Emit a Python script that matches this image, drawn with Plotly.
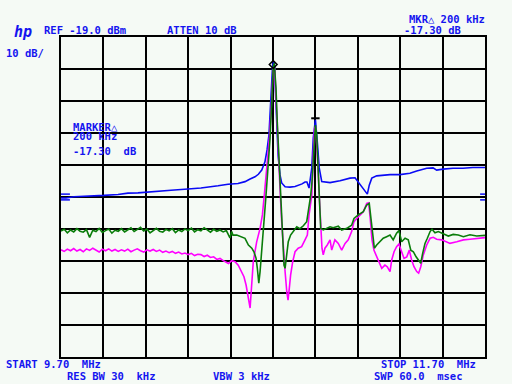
import plotly.graph_objects as go

# ---- data (frequency in MHz, level in dBm) ----
blue_f = [9.700, 9.724, 9.761, 9.827, 9.903, 9.969, 10.016, 10.063, 10.110, 10.172, 10.219,
          10.299, 10.360, 10.441, 10.488, 10.535, 10.568, 10.592, 10.615, 10.631, 10.647,
          10.662, 10.672, 10.681, 10.688, 10.693, 10.698, 10.702, 10.708, 10.710, 10.718,
          10.724, 10.733, 10.741, 10.757, 10.780, 10.804, 10.837, 10.851, 10.860, 10.870,
          10.883, 10.890, 10.900, 10.909, 10.918, 10.930, 10.969, 11.016, 11.063, 11.087,
          11.101, 11.118, 11.134, 11.145, 11.154, 11.166, 11.189, 11.219, 11.252, 11.299,
          11.346, 11.378, 11.425, 11.455, 11.472, 11.502, 11.549, 11.596, 11.643, 11.700]
blue_db = [-69.3, -69.3, -68.9, -68.8, -68.5, -68.2, -67.8, -67.7, -67.4, -67.1, -66.9,
           -66.5, -66.2, -65.5, -65.0, -64.8, -64.2, -63.4, -62.7, -61.9, -60.6,
           -58.0, -54.3, -49.6, -40.3, -32.4, -28.1, -26.8, -28.1, -33.1, -45.6,
           -55.9, -62.1, -64.6, -65.8, -65.9, -65.7, -64.9, -64.3, -64.3, -66.2,
           -59.9, -50.6, -44.9, -51.8, -59.9, -64.2, -64.5, -63.9, -63.1, -63.0,
           -64.2, -65.6, -66.8, -68.1, -65.3, -63.1, -62.4, -62.2, -62.0, -62.0,
           -61.6, -60.9, -60.0, -59.9, -60.6, -60.3, -60.0, -60.0, -59.8, -59.8]

green_f = [9.700, 9.715, 9.730, 9.745, 9.760, 9.775, 9.790, 9.805, 9.820, 9.835, 9.850,
           9.865, 9.880, 9.895, 9.910, 9.925, 9.940, 9.955, 9.970, 9.985, 10.000,
           10.015, 10.030, 10.045, 10.060, 10.075, 10.090, 10.105, 10.120, 10.135, 10.150,
           10.165, 10.180, 10.195, 10.210, 10.225, 10.240, 10.255, 10.270, 10.285, 10.300,
           10.315, 10.330, 10.345, 10.360, 10.375, 10.390, 10.405, 10.420, 10.435, 10.450,
           10.465, 10.480, 10.497, 10.505, 10.511, 10.529, 10.552, 10.568, 10.584, 10.600,
           10.610, 10.620, 10.626, 10.633, 10.639, 10.647, 10.654, 10.666, 10.675, 10.686,
           10.694, 10.701, 10.706, 10.714, 10.720, 10.728, 10.736, 10.744, 10.752, 10.757,
           10.765, 10.772, 10.783, 10.796, 10.812, 10.827, 10.843, 10.859, 10.870, 10.878,
           10.884, 10.890, 10.895, 10.900, 10.906, 10.912, 10.918, 10.925, 10.937, 10.953,
           10.969, 10.984, 11.008, 11.024, 11.048, 11.071, 11.082, 11.102, 11.126, 11.142,
           11.154, 11.162, 11.170, 11.178, 11.189, 11.205, 11.220, 11.236, 11.252, 11.267,
           11.283, 11.294, 11.307, 11.323, 11.338, 11.350, 11.362, 11.375, 11.385, 11.397,
           11.406, 11.417, 11.428, 11.441, 11.450, 11.464, 11.480, 11.503, 11.527, 11.550,
           11.574, 11.598, 11.629, 11.661, 11.692, 11.700]
green_db = [-79.6, -79.1, -80.2, -79.3, -79.9, -78.9, -79.7, -80.0, -79.2, -81.6, -79.4,
            -79.8, -78.8, -80.1, -79.5, -79.0, -80.3, -79.4, -79.7, -78.9, -79.9,
            -79.3, -78.6, -79.8, -79.2, -78.5, -79.6, -79.0, -80.2, -79.4, -78.8,
            -79.7, -80.0, -79.1, -79.6, -78.9, -80.1, -79.3, -79.8, -79.0, -79.5,
            -78.7, -79.9, -79.2, -79.6, -78.6, -79.4, -80.0, -79.1, -79.7, -79.3,
            -79.9, -79.5, -81.8, -79.8, -80.9, -80.9, -81.4, -81.9, -84.0, -85.0,
            -86.1, -88.1, -91.2, -95.9, -92.3, -86.1, -78.8, -69.4, -61.1, -50.7,
            -39.2, -28.3, -27.2, -34.9, -45.5, -55.9, -66.3, -78.8, -90.3, -91.3,
            -87.1, -83.0, -80.9, -79.8, -78.3, -78.9, -78.0, -76.7, -72.5, -68.4,
            -64.2, -58.0, -49.6, -46.5, -49.6, -59.0, -68.4, -78.8, -79.3, -78.8,
            -78.3, -78.6, -78.1, -79.3, -78.8, -77.8, -75.7, -74.6, -73.6, -71.5,
            -71.0, -75.7, -81.4, -85.0, -84.0, -83.0, -81.9, -81.4, -80.9, -82.4,
            -80.3, -79.5, -83.0, -81.9, -82.4, -85.6, -86.1, -87.7, -88.7, -89.7,
            -86.6, -83.5, -81.9, -79.8, -79.1, -80.2, -79.8, -80.6, -81.2, -80.7,
            -80.9, -81.4, -80.8, -81.2, -80.9, -81.0]

magenta_f = [9.700, 9.715, 9.730, 9.745, 9.760, 9.775, 9.790, 9.805, 9.820, 9.835, 9.850,
             9.865, 9.880, 9.895, 9.910, 9.925, 9.940, 9.955, 9.970, 9.985, 10.000,
             10.015, 10.030, 10.045, 10.060, 10.075, 10.090, 10.105, 10.120, 10.135, 10.150,
             10.165, 10.180, 10.195, 10.210, 10.225, 10.240, 10.255, 10.270, 10.285, 10.300,
             10.315, 10.330, 10.345, 10.360, 10.375, 10.390, 10.405, 10.420, 10.435, 10.450,
             10.465, 10.480, 10.490, 10.505, 10.521, 10.536, 10.552, 10.563, 10.573, 10.579,
             10.588, 10.592, 10.595, 10.601, 10.607, 10.615, 10.623, 10.639, 10.650, 10.659,
             10.667, 10.675, 10.683, 10.690, 10.695, 10.701, 10.708, 10.713, 10.719, 10.725,
             10.733, 10.741, 10.749, 10.757, 10.765, 10.771, 10.777, 10.783, 10.793, 10.804,
             10.819, 10.835, 10.851, 10.862, 10.870, 10.883, 10.890, 10.896, 10.901, 10.906,
             10.911, 10.918, 10.925, 10.931, 10.937, 10.945, 10.956, 10.969, 10.977, 10.992,
             11.008, 11.024, 11.040, 11.055, 11.071, 11.082, 11.095, 11.110, 11.126, 11.142,
             11.151, 11.158, 11.167, 11.176, 11.189, 11.201, 11.213, 11.228, 11.239, 11.252,
             11.260, 11.271, 11.283, 11.294, 11.307, 11.318, 11.331, 11.343, 11.354, 11.365,
             11.378, 11.387, 11.397, 11.409, 11.425, 11.441, 11.456, 11.472, 11.496, 11.519,
             11.535, 11.567, 11.598, 11.629, 11.661, 11.692, 11.700]
magenta_db = [-85.5, -86.0, -85.3, -85.8, -85.1, -85.9, -85.4, -86.1, -85.2, -85.7, -85.0,
              -85.6, -86.2, -85.3, -85.8, -85.2, -85.9, -85.4, -86.0, -85.5, -85.9,
              -85.3, -86.1, -85.6, -85.2, -85.8, -86.2, -85.5, -85.9, -85.4, -86.0,
              -85.6, -86.3, -85.9, -86.4, -86.0, -86.6, -86.2, -86.8, -86.5, -87.0,
              -86.6, -87.3, -86.9, -87.0, -87.6, -87.2, -87.9, -87.7, -88.5, -88.2,
              -88.9, -89.3, -89.8, -88.9, -89.2, -90.3, -92.3, -93.9, -96.5, -98.6,
              -101.7, -103.7, -100.7, -95.5, -89.2, -86.1, -83.0, -78.8, -74.6, -68.4,
              -63.2, -58.0, -50.7, -43.4, -35.0, -28.8, -28.8, -37.1, -45.5, -55.9,
              -66.3, -76.7, -86.1, -92.3, -98.6, -101.2, -97.5, -93.4, -89.2, -86.1,
              -85.0, -84.5, -82.4, -80.9, -74.6, -68.4, -55.9, -47.5, -47.0, -51.7,
              -58.0, -68.4, -79.8, -85.0, -87.1, -85.0, -84.0, -82.4, -85.6, -82.4,
              -83.5, -85.6, -83.5, -82.4, -79.8, -76.7, -75.7, -74.6, -73.6, -71.0,
              -70.8, -75.2, -82.4, -85.6, -87.7, -89.7, -91.3, -90.3, -90.8, -92.3,
              -88.7, -86.1, -84.5, -83.7, -86.1, -88.2, -87.7, -85.6, -88.7, -90.8,
              -92.3, -92.8, -90.8, -87.1, -84.0, -81.9, -81.6, -82.2, -82.4, -83.0,
              -83.5, -83.0, -82.4, -82.2, -82.0, -81.7, -81.7]

marker_f = [10.701, 10.900]
marker_db = [-27.6, -44.4]

ref_level = -19.0
db_per_div = 10
start_mhz, stop_mhz = 9.70, 11.70

BG = "#f5faf5"
TXT = "#1414f0"
FONT = "DejaVu Sans Mono"

fig = go.Figure()
fig.add_trace(go.Scatter(x=blue_f, y=blue_db, mode="lines",
                         line=dict(color="#0a0af5", width=1.6), hoverinfo="skip"))
fig.add_trace(go.Scatter(x=magenta_f, y=magenta_db, mode="lines",
                         line=dict(color="#ff00ff", width=1.6), hoverinfo="skip"))
fig.add_trace(go.Scatter(x=green_f, y=green_db, mode="lines",
                         line=dict(color="#0a7d0a", width=1.6), hoverinfo="skip"))
fig.add_trace(go.Scatter(x=marker_f[:1], y=marker_db[:1], mode="markers",
                         marker=dict(symbol="diamond-open", size=6, color="black",
                                     line=dict(width=1.5, color="black")), hoverinfo="skip"))
fig.add_trace(go.Scatter(x=marker_f[1:], y=marker_db[1:], mode="markers",
                         marker=dict(symbol="line-ew", size=6, color="black",
                                     line=dict(width=2, color="black")), hoverinfo="skip"))

axis_common = dict(showgrid=True, gridcolor="black", gridwidth=2, zeroline=False,
                   showline=True, linecolor="black", linewidth=2, mirror=True,
                   showticklabels=False, ticks="", fixedrange=True)
fig.update_xaxes(range=[start_mhz, stop_mhz], dtick=0.2, tick0=start_mhz, **axis_common)
fig.update_yaxes(range=[ref_level - 10 * db_per_div, ref_level], dtick=db_per_div,
                 tick0=ref_level, **axis_common)

# reference markers at the edges
for yv in (-68.1, -69.9):
    fig.add_shape(type="line", xref="x", yref="y", x0=9.695, x1=9.742, y0=yv, y1=yv,
                  line=dict(color="#0a0af5", width=1.5))
    fig.add_shape(type="line", xref="x", yref="y", x0=11.677, x1=11.700, y0=yv, y1=yv,
                  line=dict(color="#0a0af5", width=1.5))

W, H = 512, 384
L, R, T, B = 61, 27, 37, 27
pw, ph = W - L - R, H - T - B


def px(x):
    return (x - L) / pw


def py(y):
    return (H - B - y) / ph


def txt(s, x, y, anchor="left", size=10.5):
    fig.add_annotation(text=s, x=px(x), y=py(y), xref="paper", yref="paper",
                       xanchor=anchor, yanchor="middle", showarrow=False,
                       font=dict(family=FONT, size=size, color=TXT, weight="bold"))


txt("<i>hp</i>", 12, 32, size=15)
txt("REF -19.0 dBm", 42, 30)
txt("ATTEN 10 dB", 165, 30)
txt("10 dB/", 4, 53)
txt("MKR△ 200 kHz", 487, 19, anchor="right")
txt("-17.30 dB", 402, 30)
txt("MARKER△", 71, 127)
txt("200 kHz", 71, 136)
txt("-17.30  dB", 71, 151)
txt("START 9.70  MHz", 4, 364)
txt("RES BW 30  kHz", 65, 376)
txt("VBW 3 kHz", 211, 376)
txt("STOP 11.70  MHz", 379, 364)
txt("SWP 60.0  msec", 372, 376)

fig.update_layout(width=W, height=H, margin=dict(l=L, r=R, t=T, b=B),
                  paper_bgcolor=BG, plot_bgcolor=BG, showlegend=False)

fig.write_html("out.html", config={"displayModeBar": False, "staticPlot": True},
               post_script="document.body.style.margin='0';document.body.style.padding='0';"
                           "document.body.style.background='" + BG + "';")
